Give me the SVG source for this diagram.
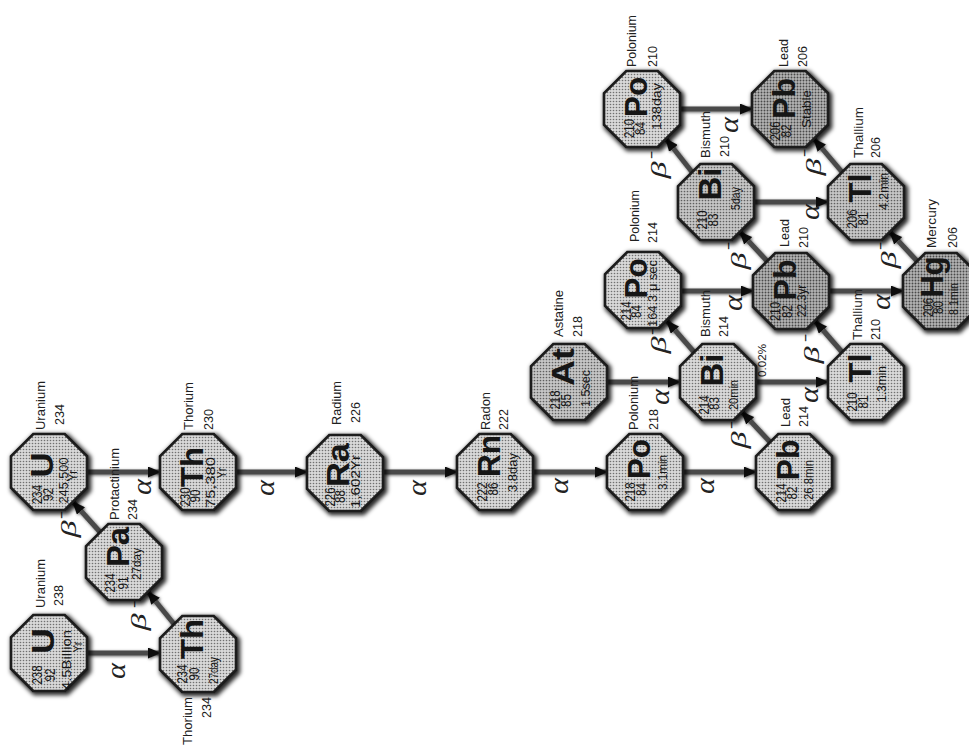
<svg xmlns="http://www.w3.org/2000/svg" width="969" height="747" viewBox="0 0 969 747">
<defs>
<pattern id="ht1" width="3" height="3" patternUnits="userSpaceOnUse"><rect width="3" height="3" fill="#d8d8d8"/><circle cx="1.5" cy="1.5" r="0.8" fill="#707070"/></pattern>
<pattern id="ht2" width="3" height="3" patternUnits="userSpaceOnUse"><rect width="3" height="3" fill="#c6c6c6"/><circle cx="1.5" cy="1.5" r="0.85" fill="#5e5e5e"/></pattern>
<pattern id="ht3" width="3" height="3" patternUnits="userSpaceOnUse"><rect width="3" height="3" fill="#b4b4b4"/><circle cx="1.5" cy="1.5" r="0.95" fill="#4a4a4a"/></pattern>
<filter id="sh" x="-30%" y="-30%" width="160%" height="160%">
<feMorphology in="SourceAlpha" operator="dilate" radius="1.2"/>
<feGaussianBlur stdDeviation="2.2"/>
<feOffset dx="1.8" dy="1.8" result="b"/>
<feFlood flood-color="#000" flood-opacity="0.85"/>
<feComposite in2="b" operator="in"/>
<feMerge><feMergeNode/><feMergeNode in="SourceGraphic"/></feMerge>
</filter>
<filter id="shl" x="-20%" y="-20%" width="140%" height="140%">
<feGaussianBlur in="SourceAlpha" stdDeviation="1.8"/>
<feOffset dx="1.2" dy="1.2" result="b"/>
<feFlood flood-color="#000" flood-opacity="0.6"/>
<feComposite in2="b" operator="in"/>
<feMerge><feMergeNode/><feMergeNode in="SourceGraphic"/></feMerge>
</filter>
<polygon id="oct" points="-15.7,-38 15.7,-38 38,-15.7 38,15.7 15.7,38 -15.7,38 -38,15.7 -38,-15.7"/>
<marker id="ah" markerUnits="userSpaceOnUse" markerWidth="13" markerHeight="11" refX="12" refY="5.5" orient="auto">
<path d="M0,0 L13,5.5 L0,11 z" fill="#111"/>
</marker>
<style>
.l1{fill:url(#ht1);stroke:#1a1a1a;stroke-width:2.6;filter:url(#sh)}
.l2{fill:url(#ht2);stroke:#1a1a1a;stroke-width:2.6;filter:url(#sh)}
.l3{fill:url(#ht3);stroke:#1a1a1a;stroke-width:2.6;filter:url(#sh)}
text{font-family:"Liberation Sans",Arial,sans-serif;fill:#161616}
.sym{font-weight:bold;font-size:31px;text-anchor:middle}
.num{font-size:14px;text-anchor:middle}
.hl{font-size:13px}
.yr{font-size:12px;text-anchor:middle}
.lbl{font-size:13px;fill:#202020}
.end{text-anchor:end}
.al{font-family:"Liberation Serif","Times New Roman",serif;font-style:italic;font-size:28px;text-anchor:middle;fill:#222}
.be{font-family:"Liberation Serif","Times New Roman",serif;font-style:italic;font-size:22px;text-anchor:middle;fill:#222}
.mi{font-size:16px;text-anchor:middle;fill:#222}
.pc{font-size:11px;fill:#202020}
.cn path{fill:none;stroke:#4a4a4a;stroke-width:5;marker-end:url(#ah)}
</style>
</defs>
<rect width="969" height="747" fill="#ffffff"/>

<g id="connectors" class="cn" filter="url(#shl)">
<path d="M87,653 L160,653"/>
<path d="M87,472 L160,472"/>
<path d="M236,472 L307,472"/>
<path d="M383,472 L457,472"/>
<path d="M533,472 L607,472"/>
<path d="M683,472 L756,472"/>
<path d="M607,382 L680,382"/>
<path d="M756,382 L828,382"/>
<path d="M681,291 L753,291"/>
<path d="M829,291 L903,291"/>
<path d="M754,202 L828,202"/>
<path d="M680,109 L752,109"/>
<path d="M174,624 L148,592"/>
<path d="M100,532 L73,502"/>
<path d="M770,442 L742,412"/>
<path d="M694,352 L667,321"/>
<path d="M842,352 L815,321"/>
<path d="M767,261 L740,232"/>
<path d="M917,261 L890,232"/>
<path d="M692,172 L666,139"/>
<path d="M842,172 L814,139"/>
</g>

<g id="edge-labels">
<text class="al" transform="translate(119,671) rotate(-90)" y="6" textLength="16" lengthAdjust="spacingAndGlyphs">α</text>
<text class="al" transform="translate(145,487) rotate(-90)" y="6" textLength="16" lengthAdjust="spacingAndGlyphs">α</text>
<text class="al" transform="translate(268,488) rotate(-90)" y="6" textLength="16" lengthAdjust="spacingAndGlyphs">α</text>
<text class="al" transform="translate(420,488) rotate(-90)" y="6" textLength="16" lengthAdjust="spacingAndGlyphs">α</text>
<text class="al" transform="translate(562,486) rotate(-90)" y="6" textLength="16" lengthAdjust="spacingAndGlyphs">α</text>
<text class="al" transform="translate(708,486) rotate(-90)" y="6" textLength="16" lengthAdjust="spacingAndGlyphs">α</text>
<text class="al" transform="translate(663,397) rotate(-90)" y="6" textLength="16" lengthAdjust="spacingAndGlyphs">α</text>
<text class="al" transform="translate(812,395) rotate(-90)" y="6" textLength="16" lengthAdjust="spacingAndGlyphs">α</text>
<text class="al" transform="translate(736,303) rotate(-90)" y="6" textLength="16" lengthAdjust="spacingAndGlyphs">α</text>
<text class="al" transform="translate(884,302) rotate(-90)" y="6" textLength="16" lengthAdjust="spacingAndGlyphs">α</text>
<text class="al" transform="translate(813,212) rotate(-90)" y="6" textLength="16" lengthAdjust="spacingAndGlyphs">α</text>
<text class="al" transform="translate(732,125) rotate(-90)" y="6" textLength="16" lengthAdjust="spacingAndGlyphs">α</text>
<text class="be" transform="translate(140,622) rotate(-90)" y="6" textLength="17" lengthAdjust="spacingAndGlyphs">β</text>
<text class="mi" transform="translate(135,604) rotate(-90)" y="5" textLength="8" lengthAdjust="spacingAndGlyphs">−</text>
<text class="be" transform="translate(70,529) rotate(-90)" y="6" textLength="17" lengthAdjust="spacingAndGlyphs">β</text>
<text class="mi" transform="translate(62,515) rotate(-90)" y="5" textLength="8" lengthAdjust="spacingAndGlyphs">−</text>
<text class="be" transform="translate(740,440) rotate(-90)" y="6" textLength="17" lengthAdjust="spacingAndGlyphs">β</text>
<text class="mi" transform="translate(732,425) rotate(-90)" y="5" textLength="8" lengthAdjust="spacingAndGlyphs">−</text>
<text class="be" transform="translate(660,345) rotate(-90)" y="6" textLength="17" lengthAdjust="spacingAndGlyphs">β</text>
<text class="mi" transform="translate(653,331) rotate(-90)" y="5" textLength="8" lengthAdjust="spacingAndGlyphs">−</text>
<text class="be" transform="translate(813,355) rotate(-90)" y="6" textLength="17" lengthAdjust="spacingAndGlyphs">β</text>
<text class="mi" transform="translate(806,338) rotate(-90)" y="5" textLength="8" lengthAdjust="spacingAndGlyphs">−</text>
<text class="be" transform="translate(740,261) rotate(-90)" y="6" textLength="17" lengthAdjust="spacingAndGlyphs">β</text>
<text class="mi" transform="translate(729,246) rotate(-90)" y="5" textLength="8" lengthAdjust="spacingAndGlyphs">−</text>
<text class="be" transform="translate(890,260) rotate(-90)" y="6" textLength="17" lengthAdjust="spacingAndGlyphs">β</text>
<text class="mi" transform="translate(881,246) rotate(-90)" y="5" textLength="8" lengthAdjust="spacingAndGlyphs">−</text>
<text class="be" transform="translate(660,170) rotate(-90)" y="6" textLength="17" lengthAdjust="spacingAndGlyphs">β</text>
<text class="mi" transform="translate(652,155) rotate(-90)" y="5" textLength="8" lengthAdjust="spacingAndGlyphs">−</text>
<text class="be" transform="translate(815,167) rotate(-90)" y="6" textLength="17" lengthAdjust="spacingAndGlyphs">β</text>
<text class="mi" transform="translate(805,153) rotate(-90)" y="5" textLength="8" lengthAdjust="spacingAndGlyphs">−</text>
<text class="pc" transform="translate(762,361) rotate(-90)" x="-16" y="4" textLength="33" lengthAdjust="spacingAndGlyphs">0.02%</text>
</g>

<g id="n-u238" transform="translate(49,653)"><use href="#oct" class="l1"/><g transform="rotate(-90)">
<text class="sym" x="12" y="5" textLength="26" lengthAdjust="spacingAndGlyphs">U</text>
<text class="num" x="-22" y="-7" textLength="19" lengthAdjust="spacingAndGlyphs">238</text>
<text class="num" x="-22" y="6" textLength="13" lengthAdjust="spacingAndGlyphs">92</text>
<text class="hl" x="-37" y="22" textLength="60" lengthAdjust="spacingAndGlyphs">4.5Billion</text>
<text class="yr" x="6" y="33" textLength="11" lengthAdjust="spacingAndGlyphs">Yr</text>
<text class="lbl" x="45" y="-4.5" textLength="49" lengthAdjust="spacingAndGlyphs">Uranium</text>
<text class="lbl" x="47" y="13.5" textLength="21" lengthAdjust="spacingAndGlyphs">238</text></g></g>

<g id="n-th234" transform="translate(198,654)"><use href="#oct" class="l1"/><g transform="rotate(-90)">
<text class="sym" x="15" y="5" textLength="40" lengthAdjust="spacingAndGlyphs">Th</text>
<text class="num" x="-20" y="-11" textLength="19" lengthAdjust="spacingAndGlyphs">234</text>
<text class="num" x="-20" y="1" textLength="13" lengthAdjust="spacingAndGlyphs">90</text>
<text class="hl" x="-30" y="20" textLength="27" lengthAdjust="spacingAndGlyphs">27day</text>
<text class="lbl end" x="-43" y="-6.5" textLength="48" lengthAdjust="spacingAndGlyphs">Thorium</text>
<text class="lbl end" x="-43" y="12.5" textLength="21" lengthAdjust="spacingAndGlyphs">234</text></g></g>

<g id="n-pa234" transform="translate(124,562)"><use href="#oct" class="l1"/><g transform="rotate(-90)">
<text class="sym" x="15" y="5" textLength="40" lengthAdjust="spacingAndGlyphs">Pa</text>
<text class="num" x="-21" y="-9" textLength="19" lengthAdjust="spacingAndGlyphs">234</text>
<text class="num" x="-21" y="4" textLength="13" lengthAdjust="spacingAndGlyphs">91</text>
<text class="hl" x="-18" y="17" textLength="32" lengthAdjust="spacingAndGlyphs">27day</text>
<text class="lbl" x="42" y="-5.5" textLength="72" lengthAdjust="spacingAndGlyphs">Protactinium</text>
<text class="lbl" x="42" y="12.5" textLength="21" lengthAdjust="spacingAndGlyphs">234</text></g></g>

<g id="n-u234" transform="translate(49,472)"><use href="#oct" class="l1"/><g transform="rotate(-90)">
<text class="sym" x="7" y="4" textLength="25" lengthAdjust="spacingAndGlyphs">U</text>
<text class="num" x="-22.5" y="-7.5" textLength="19" lengthAdjust="spacingAndGlyphs">234</text>
<text class="num" x="-22.5" y="3.5" textLength="13" lengthAdjust="spacingAndGlyphs">92</text>
<text class="hl" x="-31.5" y="18.5" textLength="46" lengthAdjust="spacingAndGlyphs">245,500</text>
<text class="yr" x="-3.5" y="28" textLength="11" lengthAdjust="spacingAndGlyphs">Yr</text>
<text class="lbl" x="42" y="-4.5" textLength="49" lengthAdjust="spacingAndGlyphs">Uranium</text>
<text class="lbl" x="47" y="14.5" textLength="21" lengthAdjust="spacingAndGlyphs">234</text></g></g>

<g id="n-th230" transform="translate(198,472)"><use href="#oct" class="l1"/><g transform="rotate(-90)">
<text class="sym" x="5" y="5" textLength="40" lengthAdjust="spacingAndGlyphs">Th</text>
<text class="num" x="-25" y="-8" textLength="19" lengthAdjust="spacingAndGlyphs">230</text>
<text class="num" x="-24" y="2" textLength="13" lengthAdjust="spacingAndGlyphs">90</text>
<text class="hl" x="-36" y="17" textLength="51" lengthAdjust="spacingAndGlyphs">75,380</text>
<text class="yr" x="-1" y="28" textLength="11" lengthAdjust="spacingAndGlyphs">Yr</text>
<text class="lbl" x="42" y="-5.5" textLength="48" lengthAdjust="spacingAndGlyphs">Thorium</text>
<text class="lbl" x="42" y="15" textLength="21" lengthAdjust="spacingAndGlyphs">230</text></g></g>

<g id="n-ra226" transform="translate(345,473)"><use href="#oct" class="l1"/><g transform="rotate(-90)">
<text class="sym" x="8" y="4" textLength="44" lengthAdjust="spacingAndGlyphs">Ra</text>
<text class="num" x="-24" y="-10" textLength="19" lengthAdjust="spacingAndGlyphs">226</text>
<text class="num" x="-23.5" y="0" textLength="13" lengthAdjust="spacingAndGlyphs">88</text>
<text class="hl" x="-35" y="15" textLength="53" lengthAdjust="spacingAndGlyphs">1,602Yr</text>
<text class="lbl" x="48" y="-4" textLength="44" lengthAdjust="spacingAndGlyphs">Radium</text>
<text class="lbl" x="50" y="14.5" textLength="21" lengthAdjust="spacingAndGlyphs">226</text></g></g>

<g id="n-rn222" transform="translate(495,472)"><use href="#oct" class="l1"/><g transform="rotate(-90)">
<text class="sym" x="16" y="5" textLength="42" lengthAdjust="spacingAndGlyphs">Rn</text>
<text class="num" x="-20" y="-8" textLength="19" lengthAdjust="spacingAndGlyphs">222</text>
<text class="num" x="-17" y="3" textLength="13" lengthAdjust="spacingAndGlyphs">86</text>
<text class="hl" x="-20" y="22" textLength="39" lengthAdjust="spacingAndGlyphs">3.8day</text>
<text class="lbl" x="42" y="-5" textLength="38" lengthAdjust="spacingAndGlyphs">Radon</text>
<text class="lbl" x="42" y="13" textLength="21" lengthAdjust="spacingAndGlyphs">222</text></g></g>

<g id="n-po218" transform="translate(645,472)"><use href="#oct" class="l1"/><g transform="rotate(-90)">
<text class="sym" x="13" y="5" textLength="40" lengthAdjust="spacingAndGlyphs">Po</text>
<text class="num" x="-20" y="-10" textLength="19" lengthAdjust="spacingAndGlyphs">218</text>
<text class="num" x="-17.5" y="1" textLength="13" lengthAdjust="spacingAndGlyphs">84</text>
<text class="hl" x="-18" y="22" textLength="35" lengthAdjust="spacingAndGlyphs">3.1min</text>
<text class="lbl" x="42" y="-7" textLength="54" lengthAdjust="spacingAndGlyphs">Polonium</text>
<text class="lbl" x="42" y="13" textLength="21" lengthAdjust="spacingAndGlyphs">218</text></g></g>

<g id="n-at218" transform="translate(569,382)"><use href="#oct" class="l2"/><g transform="rotate(-90)">
<text class="sym" x="15" y="5" textLength="38" lengthAdjust="spacingAndGlyphs">At</text>
<text class="num" x="-18" y="-9" textLength="19" lengthAdjust="spacingAndGlyphs">218</text>
<text class="num" x="-18.5" y="2" textLength="13" lengthAdjust="spacingAndGlyphs">85</text>
<text class="hl" x="-25" y="21" textLength="37" lengthAdjust="spacingAndGlyphs">1.5sec</text>
<text class="lbl" x="45" y="-6" textLength="47" lengthAdjust="spacingAndGlyphs">Astatine</text>
<text class="lbl" x="45" y="13" textLength="21" lengthAdjust="spacingAndGlyphs">218</text></g></g>

<g id="n-pb214" transform="translate(794,472)"><use href="#oct" class="l1"/><g transform="rotate(-90)">
<text class="sym" x="12" y="5" textLength="41" lengthAdjust="spacingAndGlyphs">Pb</text>
<text class="num" x="-21" y="-8.5" textLength="19" lengthAdjust="spacingAndGlyphs">214</text>
<text class="num" x="-21" y="2.5" textLength="13" lengthAdjust="spacingAndGlyphs">82</text>
<text class="hl" x="-28" y="19" textLength="40" lengthAdjust="spacingAndGlyphs">26.8min</text>
<text class="lbl" x="45" y="-4.5" textLength="29" lengthAdjust="spacingAndGlyphs">Lead</text>
<text class="lbl" x="45" y="14" textLength="21" lengthAdjust="spacingAndGlyphs">214</text></g></g>

<g id="n-bi214" transform="translate(718,382)"><use href="#oct" class="l1"/><g transform="rotate(-90)">
<text class="sym" x="12" y="5" textLength="33" lengthAdjust="spacingAndGlyphs">Bi</text>
<text class="num" x="-23" y="-9" textLength="19" lengthAdjust="spacingAndGlyphs">214</text>
<text class="num" x="-21.5" y="1" textLength="13" lengthAdjust="spacingAndGlyphs">83</text>
<text class="hl" x="-28" y="20" textLength="30" lengthAdjust="spacingAndGlyphs">20min</text>
<text class="lbl" x="45" y="-8" textLength="47" lengthAdjust="spacingAndGlyphs">Bismuth</text>
<text class="lbl" x="45" y="10" textLength="21" lengthAdjust="spacingAndGlyphs">214</text></g></g>

<g id="n-po214" transform="translate(643,290)"><use href="#oct" class="l1"/><g transform="rotate(-90)">
<text class="sym" x="11.5" y="4" textLength="40" lengthAdjust="spacingAndGlyphs">Po</text>
<text class="num" x="-21" y="-12" textLength="19" lengthAdjust="spacingAndGlyphs">214</text>
<text class="num" x="-21.5" y="-2" textLength="13" lengthAdjust="spacingAndGlyphs">84</text>
<text class="hl" x="-37" y="14" textLength="67" lengthAdjust="spacingAndGlyphs">164.3 μ sec</text>
<text class="lbl" x="48" y="-4" textLength="52" lengthAdjust="spacingAndGlyphs">Polonium</text>
<text class="lbl" x="47" y="14" textLength="21" lengthAdjust="spacingAndGlyphs">214</text></g></g>

<g id="n-tl210" transform="translate(866,382)"><use href="#oct" class="l1"/><g transform="rotate(-90)">
<text class="sym" x="14" y="5" textLength="29" lengthAdjust="spacingAndGlyphs">Tl</text>
<text class="num" x="-20" y="-9" textLength="19" lengthAdjust="spacingAndGlyphs">210</text>
<text class="num" x="-20" y="2" textLength="13" lengthAdjust="spacingAndGlyphs">81</text>
<text class="hl" x="-20" y="20" textLength="36" lengthAdjust="spacingAndGlyphs">1.3min</text>
<text class="lbl" x="42" y="-4.5" textLength="51" lengthAdjust="spacingAndGlyphs">Thallium</text>
<text class="lbl" x="42" y="14" textLength="21" lengthAdjust="spacingAndGlyphs">210</text></g></g>

<g id="n-pb210" transform="translate(791,291)"><use href="#oct" class="l3"/><g transform="rotate(-90)">
<text class="sym" x="11" y="5" textLength="41" lengthAdjust="spacingAndGlyphs">Pb</text>
<text class="num" x="-20.5" y="-11" textLength="19" lengthAdjust="spacingAndGlyphs">210</text>
<text class="num" x="-20.5" y="1" textLength="13" lengthAdjust="spacingAndGlyphs">82</text>
<text class="hl" x="-26" y="15" textLength="32" lengthAdjust="spacingAndGlyphs">22.3yr</text>
<text class="lbl" x="44" y="-2" textLength="28" lengthAdjust="spacingAndGlyphs">Lead</text>
<text class="lbl" x="43" y="17" textLength="21" lengthAdjust="spacingAndGlyphs">210</text></g></g>

<g id="n-bi210" transform="translate(716,202)"><use href="#oct" class="l2"/><g transform="rotate(-90)">
<text class="sym" x="18" y="5" textLength="33" lengthAdjust="spacingAndGlyphs">Bi</text>
<text class="num" x="-18" y="-9" textLength="19" lengthAdjust="spacingAndGlyphs">210</text>
<text class="num" x="-18" y="2" textLength="13" lengthAdjust="spacingAndGlyphs">83</text>
<text class="hl" x="-8" y="24" textLength="23" lengthAdjust="spacingAndGlyphs">5day</text>
<text class="lbl" x="44" y="-6.5" textLength="47" lengthAdjust="spacingAndGlyphs">Bismuth</text>
<text class="lbl" x="45" y="12.5" textLength="21" lengthAdjust="spacingAndGlyphs">210</text></g></g>

<g id="n-hg206" transform="translate(941,291)"><use href="#oct" class="l3"/><g transform="rotate(-90)">
<text class="sym" x="14" y="2" textLength="41" lengthAdjust="spacingAndGlyphs">Hg</text>
<text class="num" x="-16.5" y="-8" textLength="19" lengthAdjust="spacingAndGlyphs">206</text>
<text class="num" x="-16.5" y="1.5" textLength="13" lengthAdjust="spacingAndGlyphs">80</text>
<text class="hl" x="-24" y="17" textLength="32" lengthAdjust="spacingAndGlyphs">8.1min</text>
<text class="lbl" x="43" y="-5" textLength="49" lengthAdjust="spacingAndGlyphs">Mercury</text>
<text class="lbl" x="43" y="16" textLength="21" lengthAdjust="spacingAndGlyphs">206</text></g></g>

<g id="n-po210" transform="translate(642,109)"><use href="#oct" class="l1"/><g transform="rotate(-90)">
<text class="sym" x="12" y="5" textLength="40" lengthAdjust="spacingAndGlyphs">Po</text>
<text class="num" x="-19.5" y="-8" textLength="19" lengthAdjust="spacingAndGlyphs">210</text>
<text class="num" x="-19.5" y="3" textLength="13" lengthAdjust="spacingAndGlyphs">84</text>
<text class="hl" x="-21" y="19" textLength="47" lengthAdjust="spacingAndGlyphs">138day</text>
<text class="lbl" x="42" y="-6" textLength="52" lengthAdjust="spacingAndGlyphs">Polonium</text>
<text class="lbl" x="42" y="15" textLength="21" lengthAdjust="spacingAndGlyphs">210</text></g></g>

<g id="n-tl206" transform="translate(866,202)"><use href="#oct" class="l2"/><g transform="rotate(-90)">
<text class="sym" x="14" y="5" textLength="29" lengthAdjust="spacingAndGlyphs">Tl</text>
<text class="num" x="-17" y="-9" textLength="19" lengthAdjust="spacingAndGlyphs">206</text>
<text class="num" x="-17" y="2" textLength="13" lengthAdjust="spacingAndGlyphs">81</text>
<text class="hl" x="-8" y="22" textLength="37" lengthAdjust="spacingAndGlyphs">4.2min</text>
<text class="lbl" x="44" y="-3.5" textLength="51" lengthAdjust="spacingAndGlyphs">Thallium</text>
<text class="lbl" x="44" y="14" textLength="21" lengthAdjust="spacingAndGlyphs">206</text></g></g>

<g id="n-pb206" transform="translate(790,109)"><use href="#oct" class="l3"/><g transform="rotate(-90)">
<text class="sym" x="10.5" y="5" textLength="41" lengthAdjust="spacingAndGlyphs">Pb</text>
<text class="num" x="-22" y="-10" textLength="19" lengthAdjust="spacingAndGlyphs">206</text>
<text class="num" x="-22" y="1" textLength="13" lengthAdjust="spacingAndGlyphs">82</text>
<text class="hl" x="-19" y="21" textLength="38" lengthAdjust="spacingAndGlyphs">Stable</text>
<text class="lbl" x="42" y="-2" textLength="28" lengthAdjust="spacingAndGlyphs">Lead</text>
<text class="lbl" x="42" y="17" textLength="21" lengthAdjust="spacingAndGlyphs">206</text></g></g>
</svg>
